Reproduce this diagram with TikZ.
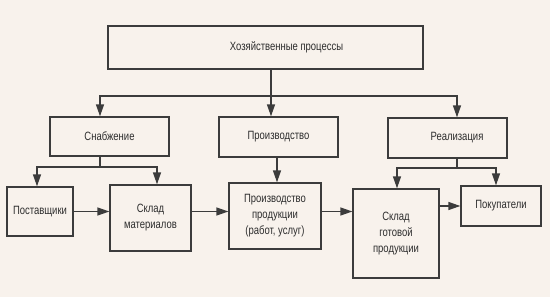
\documentclass[tikz,border=0pt]{standalone}
\usepackage{fontspec}
\setmainfont{Liberation Sans}[FakeStretch=0.79]
\usetikzlibrary{arrows.meta}

\definecolor{paper}{RGB}{248,242,236}
\definecolor{ink}{RGB}{60,60,60}
\definecolor{txt}{RGB}{45,45,45}

\begin{document}
\begin{tikzpicture}[
  x=1pt, y=-1pt,
  >={Triangle[length=12pt,width=8pt]},
  box/.style={draw=ink, line width=1.3pt, inner sep=2pt, align=center,
              font=\fontsize{12}{16}\selectfont, text=txt},
  lbl/.style={font=\fontsize{12}{16}\selectfont, text=txt},
  line/.style={draw=ink, line width=1.3pt},
  arr/.style={line, ->},
]

% ===== Background ==============================================================
\fill[paper] (0,0) rectangle (550,297);
\useasboundingbox (0,0) rectangle (550,297);

% ===== Top: main box ===========================================================
\node[box, minimum width=315pt, minimum height=43pt,
      label={[lbl, xshift=21pt]center:Хозяйственные процессы}]
  (hp) at (265.5,47.5) {};

% ===== Second row ==============================================================
\node[box, minimum width=119pt, minimum height=39pt] (snb) at (109.5,136.5) {Снабжение};
\node[box, minimum width=119pt, minimum height=40pt] (prd) at (278.5,137) {Производство};
\node[box, minimum width=119pt, minimum height=40pt,
      label={[lbl, xshift=9.5pt]center:Реализация}]
  (rea) at (447.5,138) {};

% ===== Third row ===============================================================
\node[box, minimum width=66pt, minimum height=49pt] (pst) at (40,211.5) {Поставщики};
\node[box, minimum width=81pt, minimum height=66pt] (skm) at (150.5,218) {Склад\\материалов};
\node[box, minimum width=92pt, minimum height=66pt] (prp) at (275,216) {Производство\\продукции\\(работ, услуг)};
\node[box, minimum width=86pt, minimum height=89pt] (skg) at (396,233.5) {Склад\\готовой\\продукции};
\node[box, minimum width=80pt, minimum height=40pt] (pok) at (501,206) {Покупатели};

% ===== Branches from the top ===================================================
\coordinate (t0) at (271,96);
\draw[line] (hp.south -| t0) -- (t0);
\draw[arr] (t0) -- (prd.north -| t0);
\draw[arr] (t0) -| ([xshift=-9.5pt]snb.north);
\draw[arr] (t0) -| ([xshift=9.5pt]rea.north);

% Снабжение fork
\coordinate (t1) at (100,167);
\draw[line] (snb.south -| t1) -- (t1);
\draw[arr] (t1) -| ([xshift=-3pt]pst.north);
\draw[arr] (t1) -| ([xshift=6.5pt]skm.north);

% Производство
\draw[arr] ([xshift=-1.5pt]prd.south) -- ([xshift=-1.5pt]prd.south |- prp.north);

% Реализация fork
\coordinate (t2) at (457,168);
\draw[line] (rea.south -| t2) -- (t2);
\draw[arr] (t2) -| ([xshift=1pt]skg.north);
\draw[arr] (t2) -| ([xshift=-5pt]pok.north);

% ===== Flow along the bottom row ===============================================
\draw[arr] (pst.east |- pst) -- (skm.west |- pst);
\draw[arr] (skm.east |- pst) -- (prp.west |- pst);
\draw[arr] (prp.east |- pst) -- (skg.west |- pst);
\draw[arr] (skg.east |- pok) -- (pok.west);

\end{tikzpicture}
\end{document}
